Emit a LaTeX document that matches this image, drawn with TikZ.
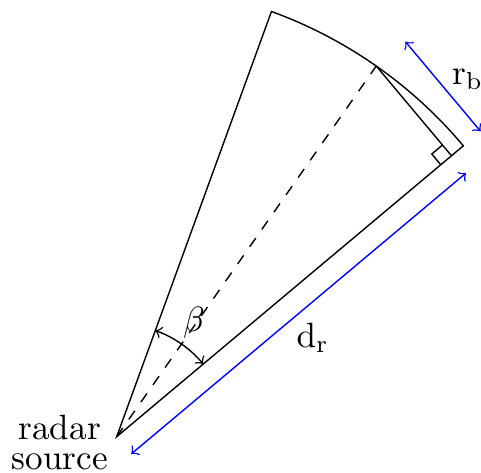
\documentclass[tikz,border=0pt]{standalone}
\usetikzlibrary{calc}
\begin{document}
\begin{tikzpicture}[
  lbl/.style={inner sep=0pt, anchor=base west},
  txt/.style={inner sep=0pt, anchor=base},
  dim/.style={blue, <->},
]
\useasboundingbox (-1.167,-0.363) rectangle (3.643,4.367);
\def\R{4.525}
\coordinate (O) at (0,0);
\coordinate (A) at (70:\R);
\coordinate (B) at (40:\R);
\coordinate (M) at (55:\R);
\coordinate (F) at ($(O)!(M)!(B)$);
% sector
\draw (O) -- (A) arc[start angle=70, end angle=40, radius=\R] -- cycle;
\draw[dashed] (O) -- (M);
\draw (M) -- (F);
% right angle mark
\coordinate (F1) at ($(F)!0.14cm!(O)$);
\coordinate (F2) at ($(F)!0.14cm!(M)$);
\draw (F1) -- ($(F1)+(F2)-(F)$) -- (F2);
% beta angle
\draw[<->] (40:1.13) arc[start angle=40, end angle=70, radius=1.13];
% dimension arrows
\coordinate (D1) at ($(O)+(-50:0.226)$);
\coordinate (D2) at ($(F)+(-50:0.226)$);
\draw[dim] (D1) -- (D2);
\coordinate (E1) at ($(M)+(40:0.38)$);
\coordinate (E2) at ($(F)+(40:0.38)$);
\draw[dim] (E1) -- (E2);
% labels
\node (beta) [lbl] at (0.658,1.047) {$\beta$};
\node (dr) [lbl] at (1.793,0.89) {$\mathrm{d_r}$};
\node (rb) [lbl] at (3.348,3.522) {$\mathrm{r_b}$};
\node (radar) [txt] at (-0.57,-0.026) {radar};
\node (source) [txt] at (-0.57,-0.326) {source};
\end{tikzpicture}
\end{document}
